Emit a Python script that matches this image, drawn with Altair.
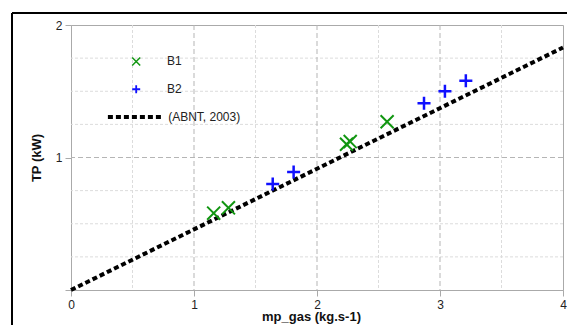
import altair as alt
import pandas as pd

# ---- data ----
b1_x = [1.16, 1.28, 2.24, 2.27, 2.57]
b1_y = [0.58, 0.62, 1.10, 1.12, 1.27]
b2_x = [1.64, 1.81, 2.87, 3.04, 3.21]
b2_y = [0.80, 0.89, 1.41, 1.50, 1.58]
abnt_x = [0.0, 4.0]
abnt_y = [0.0, 1.83]

x_ticks = [0, 1, 2, 3, 4]
y_ticks = [0, 1, 2]
x_major_grid = [1, 2, 3]
x_minor_grid = [0.5, 1.5, 2.5, 3.5]
y_major_grid = [1]
y_minor_grid = [0.25, 0.5, 0.75, 1.25, 1.5, 1.75]

legend_labels = ["B1", "B2", "(ABNT, 2003)"]
legend_sym_x = [0.53, 0.53]
legend_sym_y = [1.725, 1.515]
legend_text_x = [0.78, 0.78, 0.79]
legend_text_y = [1.725, 1.515, 1.305]
legend_line_x = [0.30, 0.75]
legend_line_y = [1.305, 1.305]

GREEN = "#119611"
BLUE = "#1010ff"
FONT = "Liberation Sans"
X_PATH = "M-1,-1L1,1M-1,1L1,-1"
P_PATH = "M-1,0L1,0M0,-1L0,1"

xscale = alt.Scale(domain=[0, 4], nice=False, zero=False)
yscale = alt.Scale(domain=[0, 2], nice=False, zero=False)
xaxis = alt.Axis(values=x_ticks, grid=False, title="mp_gas (kg.s-1)",
                 labelExpr="format(datum.value, '.0f')",
                 titleX=240, titlePadding=0, labelFlush=False, labelOverlap=False)
yaxis = alt.Axis(values=y_ticks, grid=False, title="TP (kW)",
                 labelExpr="datum.value < 0.5 ? '' : format(datum.value, '.0f')",
                 titlePadding=12, labelFlush=False, labelOverlap=False)


def X(f="x"):
    return alt.X(f"{f}:Q", scale=xscale, axis=xaxis)


def Y(f="y"):
    return alt.Y(f"{f}:Q", scale=yscale, axis=yaxis)


df_b1 = pd.DataFrame({"x": b1_x, "y": b1_y})
df_b2 = pd.DataFrame({"x": b2_x, "y": b2_y})
df_abnt = pd.DataFrame({"x": abnt_x, "y": abnt_y})

gx_minor = alt.Chart(pd.DataFrame({"x": x_minor_grid})).mark_rule(
    color="#dcdcdc", strokeDash=[3, 2], strokeWidth=1).encode(x=X())
gx_major = alt.Chart(pd.DataFrame({"x": x_major_grid})).mark_rule(
    color="#b5b5b5", strokeDash=[5, 3], strokeWidth=1).encode(x=X())
gy_minor = alt.Chart(pd.DataFrame({"y": y_minor_grid})).mark_rule(
    color="#dcdcdc", strokeDash=[3, 2], strokeWidth=1).encode(y=Y())
gy_major = alt.Chart(pd.DataFrame({"y": y_major_grid})).mark_rule(
    color="#b5b5b5", strokeDash=[5, 3], strokeWidth=1).encode(y=Y())

abnt = alt.Chart(df_abnt).mark_line(
    color="black", strokeWidth=4, strokeDash=[5, 3]).encode(x=X(), y=Y())

b1 = alt.Chart(df_b1).mark_point(
    shape=X_PATH, color=GREEN, strokeWidth=2, size=170, filled=False, opacity=1
).encode(x=X(), y=Y())
b2 = alt.Chart(df_b2).mark_point(
    shape=P_PATH, color=BLUE, strokeWidth=2.5, size=170, filled=False, opacity=1
).encode(x=X(), y=Y())

leg_b1 = alt.Chart(pd.DataFrame({"x": legend_sym_x[:1], "y": legend_sym_y[:1]})).mark_point(
    shape=X_PATH, color=GREEN, strokeWidth=1.5, size=64, filled=False, opacity=1
).encode(x=X(), y=Y())
leg_b2 = alt.Chart(pd.DataFrame({"x": legend_sym_x[1:], "y": legend_sym_y[1:]})).mark_point(
    shape=P_PATH, color=BLUE, strokeWidth=1.8, size=64, filled=False, opacity=1
).encode(x=X(), y=Y())
leg_line = alt.Chart(pd.DataFrame({"x": legend_line_x, "y": legend_line_y})).mark_line(
    color="black", strokeWidth=4, strokeDash=[5, 3]).encode(x=X(), y=Y())
leg_text = alt.Chart(pd.DataFrame({"x": legend_text_x, "y": legend_text_y, "t": legend_labels})).mark_text(
    align="left", baseline="middle", font=FONT, fontSize=12, color="#222222"
).encode(x=X(), y=Y(), text="t:N")

frame_df = pd.DataFrame({"k": [0]})
frame_left = alt.Chart(frame_df).mark_rule(color="black", strokeWidth=2).encode(
    x=alt.value(-59), y=alt.value(-12), y2=alt.value(320))
frame_top = alt.Chart(frame_df).mark_rule(color="black", strokeWidth=2).encode(
    x=alt.value(-59), x2=alt.value(540), y=alt.value(-12))

chart = alt.layer(
    gx_minor, gy_minor, gx_major, gy_major, abnt, b1, b2,
    leg_b1, leg_b2, leg_line, leg_text, frame_left, frame_top
).properties(
    width=492, height=265,
    autosize=alt.AutoSizeParams(type="none"),
    padding={"left": 63, "top": 17, "right": 4, "bottom": 40},
).configure_view(
    stroke="#aaaaaa", strokeWidth=1
).configure_axis(
    domainColor="#aaaaaa", tickColor="#aaaaaa", tickSize=6, labelPadding=3,
    labelFont=FONT, labelFontSize=12, labelColor="#222222",
    titleFont=FONT, titleFontSize=13, titleFontWeight="bold", titleColor="#111111",
)

chart.save("out.html", embed_options={"renderer": "svg", "actions": False})
